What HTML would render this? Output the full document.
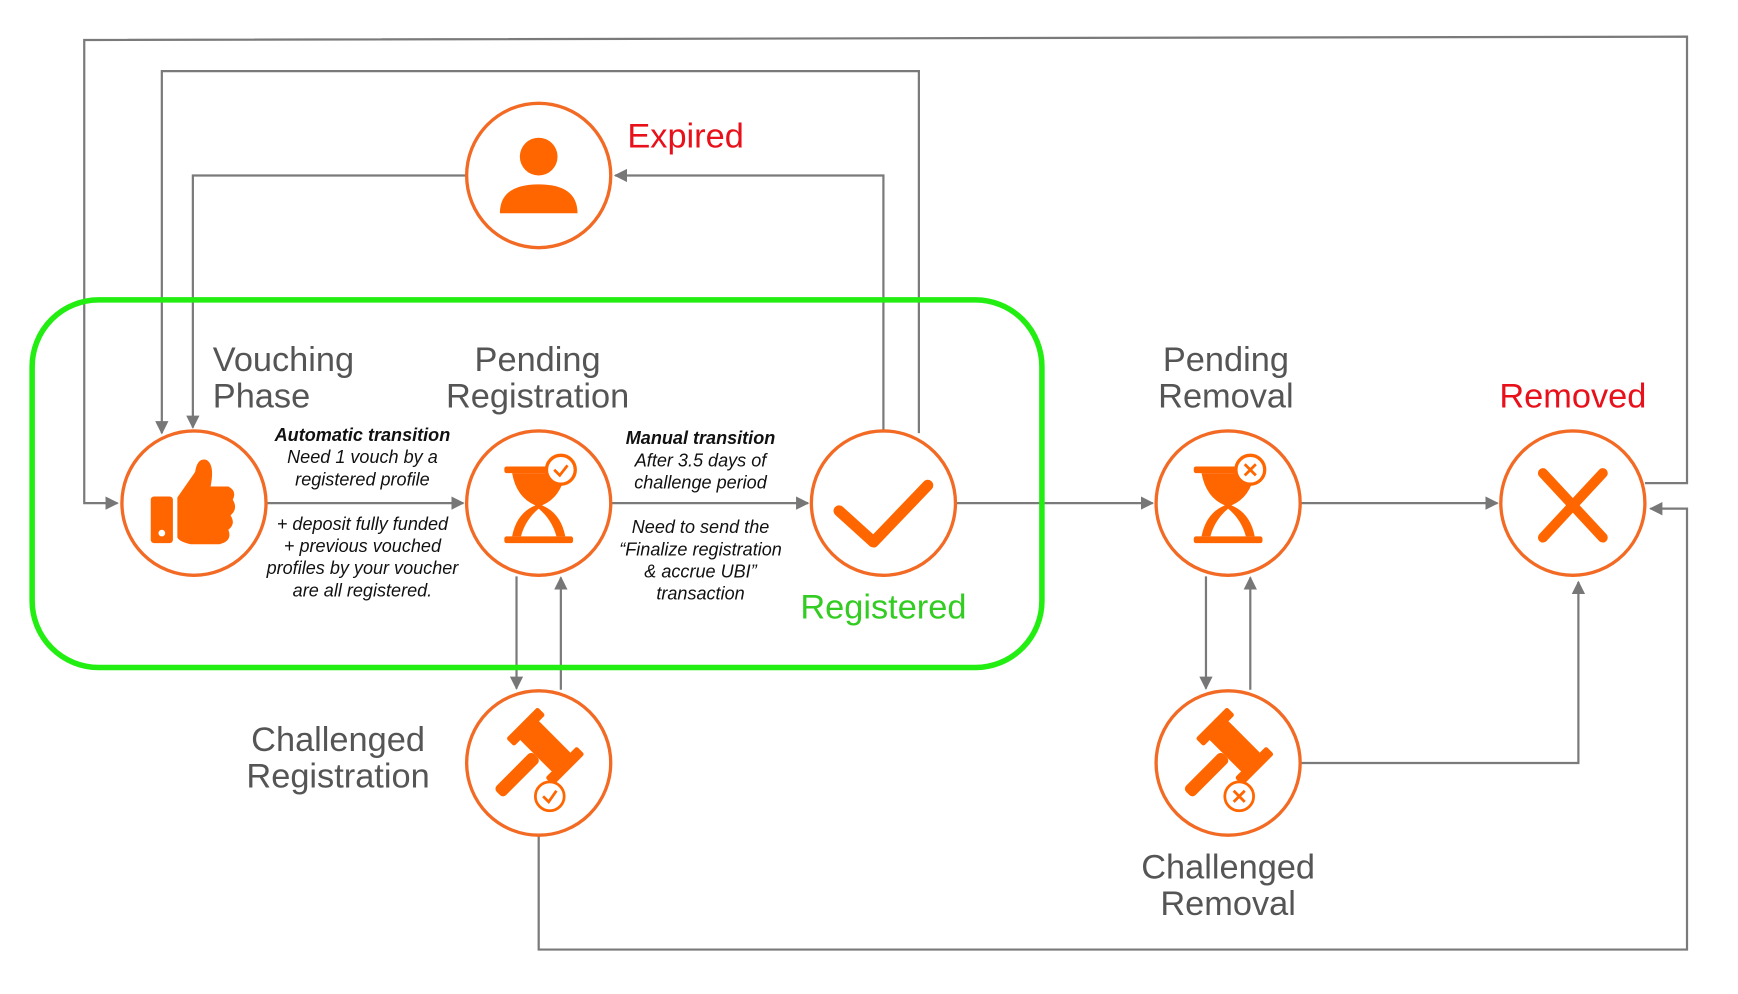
<!DOCTYPE html>
<html><head><meta charset="utf-8"><style>
html,body{margin:0;padding:0;background:#fff;}
svg{display:block;}
text{font-family:"Liberation Sans",sans-serif;}
.lbl{font-size:31px;fill:#555;}
.sm{font-size:16.3px;font-style:italic;fill:#111;}
.b{font-weight:bold;}
</style></head><body>
<svg width="1738" height="994" viewBox="0 0 1568 895" preserveAspectRatio="none" xmlns="http://www.w3.org/2000/svg">
<defs>
<marker id="a" viewBox="0 0 10 10" refX="9" refY="5" markerWidth="6" markerHeight="6" orient="auto-start-reverse"><path d="M0,0L10,5L0,10z" fill="#777"/></marker>
</defs>
<g fill="none" stroke="#7a7a7a" stroke-width="2">
<polyline points="1484,435 1522,435 1522,33 76,36 76,453 106,453" marker-end="url(#a)"/>
<polyline points="829,390 829,64 146,64 146,390" marker-end="url(#a)"/>
<polyline points="797,388 797,158 555,158" marker-end="url(#a)"/>
<polyline points="420,158 174,158 174,385" marker-end="url(#a)"/>
<line x1="241" y1="453" x2="418" y2="453" marker-end="url(#a)"/>
<line x1="552" y1="453" x2="729" y2="453" marker-end="url(#a)"/>
<line x1="863" y1="453" x2="1040" y2="453" marker-end="url(#a)"/>
<line x1="1174" y1="453" x2="1351" y2="453" marker-end="url(#a)"/>
<line x1="466" y1="519" x2="466" y2="620" marker-end="url(#a)"/>
<line x1="506" y1="621" x2="506" y2="520" marker-end="url(#a)"/>
<line x1="1088" y1="519" x2="1088" y2="620" marker-end="url(#a)"/>
<line x1="1128" y1="621" x2="1128" y2="520" marker-end="url(#a)"/>
<polyline points="1174,687 1424,687 1424,524" marker-end="url(#a)"/>
<polyline points="486,753 486,855 1522,855 1522,458 1489,458" marker-end="url(#a)"/>
</g>
<rect x="29" y="270" width="911" height="331" rx="60" fill="none" stroke="#22ee11" stroke-width="5"/>
<g fill="#fff" stroke="#f26a24" stroke-width="3">
<circle cx="175" cy="453" r="65"/><circle cx="486" cy="453" r="65"/><circle cx="797" cy="453" r="65"/>
<circle cx="1108" cy="453" r="65"/><circle cx="1419" cy="453" r="65"/><circle cx="486" cy="158" r="65"/>
<circle cx="486" cy="687" r="65"/><circle cx="1108" cy="687" r="65"/>
</g>
<g fill="#ff6600">
<rect x="136" y="447" width="20" height="42" rx="3"/>
<circle cx="146" cy="480" r="3" fill="#fff"/>
<path d="M160,448 L176,425 Q178,412 186,414 Q194,418 190,438 L206,438 Q214,442 210,450 Q215,458 208,464 Q213,472 206,477 Q210,487 198,490 L172,490 Q162,488 160,484z"/>
<circle cx="486" cy="141" r="17"/>
<path d="M451,192 Q451,166 486,166 Q521,166 521,192z"/>
<path d="M757,460 L788,488 L837,437" fill="none" stroke="#ff6600" stroke-width="10" stroke-linecap="round" stroke-linejoin="round"/>
<path d="M1392,426 L1446,484 M1446,426 L1392,484" stroke="#ff6600" stroke-width="9" stroke-linecap="round"/>
</g>
<g fill="#ff6600">
<rect x="455" y="420" width="62" height="6" rx="2"/>
<rect x="455" y="483" width="62" height="6" rx="2"/>
<path d="M462,426 Q466,448 483,455 Q466,462 462,483 L470,483 Q474,468 486,458 Q498,468 502,483 L510,483 Q506,462 489,455 Q506,448 510,426z"/>
<circle cx="506" cy="423" r="13" fill="#fff" stroke="#ff6600" stroke-width="3"/>
<path d="M500,423 L505,428 L512,419" fill="none" stroke="#ff6600" stroke-width="2.5"/>
</g>
<g fill="#ff6600" transform="translate(622,0)">
<rect x="455" y="420" width="62" height="6" rx="2"/>
<rect x="455" y="483" width="62" height="6" rx="2"/>
<path d="M462,426 Q466,448 483,455 Q466,462 462,483 L470,483 Q474,468 486,458 Q498,468 502,483 L510,483 Q506,462 489,455 Q506,448 510,426z"/>
<circle cx="506" cy="423" r="13" fill="#fff" stroke="#ff6600" stroke-width="3"/>
<path d="M501,418 L511,428 M511,418 L501,428" stroke="#ff6600" stroke-width="2.5"/>
</g>
<g fill="#ff6600">
<g transform="rotate(45 492 672)"><rect x="470" y="660" width="44" height="24" rx="3"/><rect x="462" y="652" width="10" height="40" rx="2"/><rect x="512" y="652" width="10" height="40" rx="2"/><rect x="486" y="684" width="12" height="48" rx="4"/></g>
<circle cx="496" cy="717" r="13" fill="#fff" stroke="#ff6600" stroke-width="2.5"/>
<path d="M490,717 L495,722 L502,712" fill="none" stroke="#ff6600" stroke-width="2.5"/>
<g transform="translate(622,0)">
<g transform="rotate(45 492 672)"><rect x="470" y="660" width="44" height="24" rx="3"/><rect x="462" y="652" width="10" height="40" rx="2"/><rect x="512" y="652" width="10" height="40" rx="2"/><rect x="486" y="684" width="12" height="48" rx="4"/></g>
<circle cx="496" cy="717" r="13" fill="#fff" stroke="#ff6600" stroke-width="2.5"/>
<path d="M491,712 L501,722 M501,712 L491,722" stroke="#ff6600" stroke-width="2.5"/>
</g>
</g>
<text class="lbl" x="192" y="334">Vouching</text><text class="lbl" x="192" y="367">Phase</text>
<text class="lbl" x="485" y="334" text-anchor="middle">Pending</text><text class="lbl" x="485" y="367" text-anchor="middle">Registration</text>
<text class="lbl" x="1106" y="334" text-anchor="middle">Pending</text><text class="lbl" x="1106" y="367" text-anchor="middle">Removal</text>
<text class="lbl" x="1419" y="367" text-anchor="middle" style="fill:#e8101a">Removed</text>
<text class="lbl" x="566" y="133" style="fill:#e8101a">Expired</text>
<text class="lbl" x="797" y="557" text-anchor="middle" style="fill:#33cc22">Registered</text>
<text class="lbl" x="305" y="676" text-anchor="middle">Challenged</text><text class="lbl" x="305" y="709" text-anchor="middle">Registration</text>
<text class="lbl" x="1108" y="791" text-anchor="middle">Challenged</text><text class="lbl" x="1108" y="824" text-anchor="middle">Removal</text>
<text class="sm b" x="327" y="397" text-anchor="middle">Automatic transition</text>
<text class="sm" x="327" y="417" text-anchor="middle">Need 1 vouch by a</text>
<text class="sm" x="327" y="437" text-anchor="middle">registered profile</text>
<text class="sm" x="327" y="477" text-anchor="middle">+ deposit fully funded</text>
<text class="sm" x="327" y="497" text-anchor="middle">+ previous vouched</text>
<text class="sm" x="327" y="517" text-anchor="middle">profiles by your voucher</text>
<text class="sm" x="327" y="537" text-anchor="middle">are all registered.</text>
<text class="sm b" x="632" y="400" text-anchor="middle">Manual transition</text>
<text class="sm" x="632" y="420" text-anchor="middle">After 3.5 days of</text>
<text class="sm" x="632" y="440" text-anchor="middle">challenge period</text>
<text class="sm" x="632" y="480" text-anchor="middle">Need to send the</text>
<text class="sm" x="632" y="500" text-anchor="middle">“Finalize registration</text>
<text class="sm" x="632" y="520" text-anchor="middle">&amp; accrue UBI”</text>
<text class="sm" x="632" y="540" text-anchor="middle">transaction</text>
</svg>
</body></html>
